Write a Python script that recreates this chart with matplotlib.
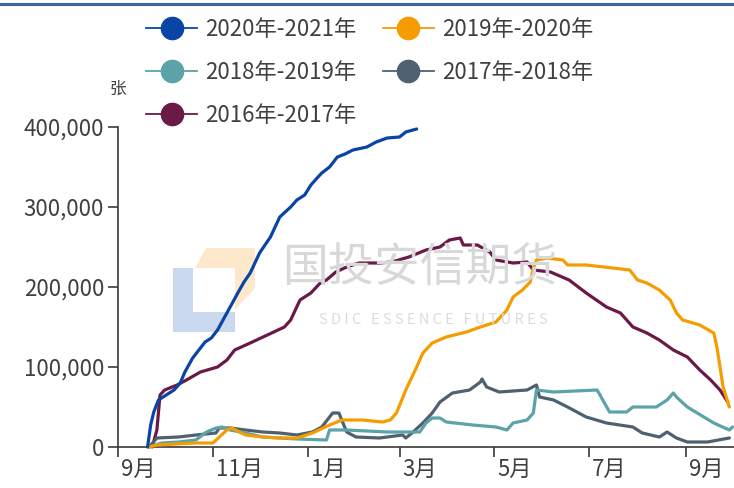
import matplotlib
matplotlib.use("Agg")
import matplotlib.pyplot as plt
from matplotlib.lines import Line2D
from matplotlib.patches import Polygon
from matplotlib.ticker import FuncFormatter
import matplotlib.transforms as mtransforms

plt.rcParams['font.family'] = ['Noto Sans CJK SC', 'DejaVu Sans']

# ---- data (x = days since 1 Sep of the season start, y = 张) ----
d2020 = [19, 21, 23, 26, 30, 36, 40, 43, 48, 52, 56, 60, 64, 70, 77, 81, 85, 91, 98, 104,
         111, 115, 120, 124, 128, 131, 136, 141, 146, 151, 160, 166, 173, 181, 185, 192]
v2020 = [0, 27500, 43750, 58750, 63750, 71250, 80000, 93750, 111250, 121250, 131250, 136250,
         146250, 167500, 192500, 206250, 217500, 242500, 262500, 287500, 300000, 308750, 315000,
         327500, 336250, 342500, 350000, 362500, 366250, 371250, 375000, 381250, 386250, 387500,
         393750, 397500]

d2019 = [20, 25, 50, 61, 70, 73, 82, 93, 104, 115, 125, 136, 144, 157, 170, 175, 179, 185, 192, 196,
         202, 211, 224, 233, 243, 250, 254, 260, 265, 267, 269, 276, 286, 289, 301, 318, 329, 334, 340, 348,
         355, 359, 363, 374, 383, 385, 387, 389, 393]
v2019 = [0, 2500, 5000, 5000, 21250, 23750, 15000, 12500, 11250, 11250,
         17500, 27500, 33750, 33750, 31250, 33750, 42500, 71250, 100000, 117500,
         130000, 137500, 143750, 150000, 156250, 171250, 187500, 196250, 206250, 223750,
         233750, 236250, 233750, 227500, 227500, 223750, 221250, 208750, 205000, 196250,
         183750, 167500, 158750, 152500, 142500, 125000, 100000, 75000, 50000]

d2018 = [20, 28, 39, 50, 57, 63, 67, 72, 82, 93, 104, 115, 134, 136, 147, 173, 194, 198, 202, 207,
         211, 228, 243, 250, 254, 263, 267, 269, 280, 308, 316, 327, 331, 346, 353, 357, 359, 366, 383, 393, 395]
v2018 = [0, 5000, 6250, 8750, 18750, 23750, 25000, 21250, 17500, 12500,
         11250, 10000, 8750, 21250, 21250, 18750, 18750, 30000, 36250, 36250,
         31250, 27500, 25000, 21250, 30000, 33750, 42500, 71250, 68750, 71250,
         43750, 43750, 50000, 50000, 58750, 67500, 62500, 50000, 30000, 21250, 25000]

d2017 = [20, 25, 39, 50, 63, 65, 72, 82, 93, 104, 115, 125, 131, 138, 142, 147, 153, 168, 183, 185,
         189, 196, 202, 207, 215, 226, 233, 234, 237, 245, 263, 269, 271, 280, 289, 301, 314, 331, 337, 348,
         353, 359, 366, 379, 393]
v2017 = [0, 11250, 12500, 15000, 17500, 23750, 23750, 21250, 18750, 17500,
         15000, 18750, 25000, 42500, 42500, 18750, 12500, 11250, 15000, 11250,
         17500, 30000, 42500, 56250, 67500, 71250, 81250, 85000, 75000, 68750,
         71250, 77500, 62500, 58750, 50000, 37500, 30000, 25000, 17500, 12500,
         18750, 11250, 6250, 6250, 11250]

d2016 = [22, 25, 27, 30, 38, 44, 53, 64, 70, 75, 85, 96, 107, 111, 117, 124, 130, 134, 140, 147,
         155, 168, 176, 187, 198, 207, 213, 220, 222, 231, 239, 243, 254, 263, 267, 278, 290, 301, 314, 323,
         331, 340, 348, 357, 366, 374, 381, 387, 392]
v2016 = [0, 21250, 65000, 71250, 77500, 83750, 93750, 100000, 108750, 121250,
         130000, 140000, 150000, 158750, 183750, 192500, 205000, 208750, 218750, 225000,
         230000, 230000, 231250, 237500, 246250, 250000, 258750, 261250, 252500, 252500,
         243750, 233750, 230000, 231250, 221250, 218750, 208750, 192500, 175000, 167500,
         150000, 142500, 133750, 121250, 112500, 96250, 83750, 71250, 56250]

labels = ['2020年-2021年', '2019年-2020年', '2018年-2019年', '2017年-2018年', '2016年-2017年']
colors = ['#0a45a5', '#f59d00', '#5ba3a9', '#4f6170', '#6b1a47']
series_days = [d2020, d2019, d2018, d2017, d2016]
series_vals = [v2020, v2019, v2018, v2017, v2016]

month_ticks = [0, 61, 122, 181, 242, 303, 365]
month_labels = ['9月', '11月', '1月', '3月', '5月', '7月', '9月']
y_ticks = [0, 100000, 200000, 300000, 400000]

# ---- figure ----
W, H = 734, 488
fig = plt.figure(figsize=(W / 100, H / 100), dpi=100)
ax = fig.add_axes([118 / W, 1 - 447 / H, (W - 118) / W, (447 - 127) / H])
ax.patch.set_alpha(0)

def fx(px):
    return px / W

def fy(py):
    return 1 - py / H

# watermark logo & text
blue_L = Polygon([(fx(173), fy(268)), (fx(193), fy(268)), (fx(193), fy(312)), (fx(235), fy(312)),
                  (fx(235), fy(332)), (fx(173), fy(332))], closed=True, transform=fig.transFigure,
                 facecolor='#cad9ee', edgecolor='none', zorder=0)
orange_L = Polygon([(fx(195), fy(268)), (fx(206), fy(248)), (fx(255), fy(248)), (fx(255), fy(288)),
                    (fx(235), fy(310)), (fx(235), fy(268))], closed=True, transform=fig.transFigure,
                   facecolor='#fde8cb', edgecolor='none', zorder=0)
fig.add_artist(blue_L)
fig.add_artist(orange_L)
fig.text(fx(420), fy(268), '国投安信期货', fontsize=33, color='#d8d8d8', ha='center', va='center', zorder=0)
fig.text(fx(433), fy(320), 'S D I C   E S S E N C E   F U T U R E S', fontsize=10.5, color='#dcdcdc',
         ha='center', va='center', zorder=0)

# top rule
fig.add_artist(Line2D([0, 1], [fy(4), fy(4)], transform=fig.transFigure, color='#3e63ad', linewidth=2.2))

# series (draw oldest first so 2020-2021 on top)
for days, vals, c in zip(reversed(series_days), reversed(series_vals), reversed(colors)):
    ax.plot(days, vals, color=c, linewidth=2.3, solid_joinstyle='round', solid_capstyle='round',
            zorder=3, clip_on=False)

ax.set_xlim(0, 396)
ax.set_ylim(0, 400000)
ax.set_xticks(month_ticks)
ax.set_xticklabels(month_labels)
ax.set_yticks(y_ticks)
ax.yaxis.set_major_formatter(FuncFormatter(lambda v, p: f'{int(v):,}'))

for s in ['top', 'right']:
    ax.spines[s].set_visible(False)
for s in ['left', 'bottom']:
    ax.spines[s].set_color('#3a3a3a')
    ax.spines[s].set_linewidth(1.2)

ax.tick_params(axis='both', direction='out', length=7, width=1.2, color='#3a3a3a',
               labelcolor='#404040', labelsize=16)
ax.tick_params(axis='y', pad=3)
ax.tick_params(axis='x', pad=1)
offset = mtransforms.ScaledTranslation(3 / 100, 0, fig.dpi_scale_trans)
for lab in ax.get_xticklabels():
    lab.set_horizontalalignment('left')
    lab.set_transform(lab.get_transform() + offset)

# unit label
fig.text(fx(118), fy(89), '张', fontsize=12, color='#404040', ha='center', va='center')

# legend (column-major order to get the reference rows)
order = [0, 2, 4, 1, 3]
handles = [Line2D([0], [0], color=colors[i], linewidth=1.3, marker='o', markersize=16,
                  markerfacecolor=colors[i], markeredgecolor=colors[i]) for i in order]
fig.legend(handles, [labels[i] for i in order], ncol=2, loc='upper left',
           bbox_to_anchor=(fx(146), fy(18)), frameon=False, fontsize=16,
           handlelength=2.3, handletextpad=0.35, columnspacing=1.2, labelspacing=0.9,
           borderpad=0, borderaxespad=0, labelcolor='#404040')

fig.savefig('out.png', dpi=100)
